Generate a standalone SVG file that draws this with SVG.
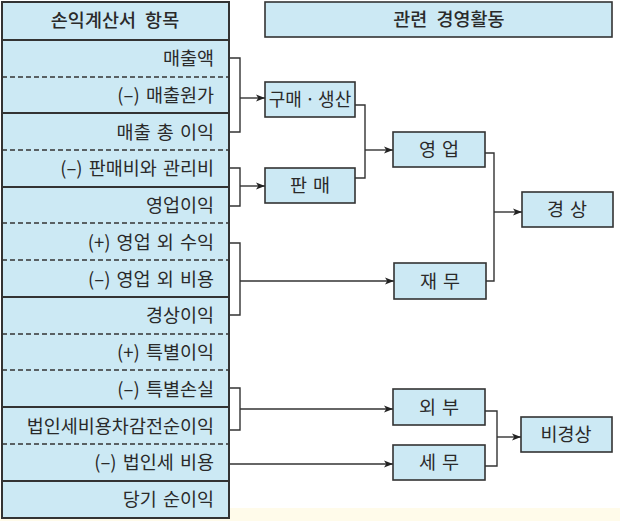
<svg xmlns="http://www.w3.org/2000/svg" width="620" height="521" viewBox="0 0 620 521">
<defs>
<marker id="arr" viewBox="0 0 10 10" refX="10" refY="5" markerWidth="9" markerHeight="9" markerUnits="userSpaceOnUse" orient="auto"><path d="M0,1 L10,5 L0,9 L2.5,5 Z" fill="#222"/></marker>
<style>
text{font-family:"Noto Sans CJK KR","Noto Sans",sans-serif;fill:#2a2a2a;}
.row{font-size:18.5px;text-anchor:end;word-spacing:2px;}
.hd{font-size:18.5px;text-anchor:middle;font-weight:500;word-spacing:5px;}
.bx{font-size:18.5px;text-anchor:middle;word-spacing:2px;}
.tight{word-spacing:-1px;font-size:18px;}
.box{fill:#cce9f4;stroke:#333;stroke-width:1.6;}
.solid{stroke:#333;stroke-width:2;}
.dash{stroke:#333;stroke-width:1.3;stroke-dasharray:5,3;}
.con{fill:none;stroke:#333;stroke-width:1.4;}
</style>
</defs>
<rect width="620" height="521" fill="#ffffff"/>
<rect x="0" y="508" width="620" height="13" fill="#fffbea"/>
<g id="table">
<rect x="2" y="2" width="227" height="516" fill="#cce9f4" stroke="#333" stroke-width="2"/>
<line class="solid" x1="2" y1="40" x2="229" y2="40"/>
<line class="dash" x1="2" y1="77" x2="229" y2="77"/>
<line class="solid" x1="2" y1="113" x2="229" y2="113"/>
<line class="dash" x1="2" y1="150" x2="229" y2="150"/>
<line class="solid" x1="2" y1="187" x2="229" y2="187"/>
<line class="dash" x1="2" y1="223" x2="229" y2="223"/>
<line class="dash" x1="2" y1="260" x2="229" y2="260"/>
<line class="solid" x1="2" y1="297" x2="229" y2="297"/>
<line class="dash" x1="2" y1="334" x2="229" y2="334"/>
<line class="dash" x1="2" y1="370" x2="229" y2="370"/>
<line class="solid" x1="2" y1="407" x2="229" y2="407"/>
<line class="dash" x1="2" y1="444" x2="229" y2="444"/>
<line class="solid" x1="2" y1="481" x2="229" y2="481"/>
<text class="hd" x="115" y="27">손익계산서 항목</text>
<text class="row" x="214" y="65">매출액</text>
<text class="row" x="214" y="102">(–) 매출원가</text>
<text class="row" x="214" y="139">매출 총 이익</text>
<text class="row" x="214" y="175">(–) 판매비와 관리비</text>
<text class="row" x="214" y="212">영업이익</text>
<text class="row" x="214" y="249">(+) 영업 외 수익</text>
<text class="row" x="214" y="286">(–) 영업 외 비용</text>
<text class="row" x="214" y="322">경상이익</text>
<text class="row" x="214" y="359">(+) 특별이익</text>
<text class="row" x="214" y="396">(–) 특별손실</text>
<text class="row" x="214" y="433">법인세비용차감전순이익</text>
<text class="row" x="214" y="469">(–) 법인세 비용</text>
<text class="row" x="214" y="506">당기 순이익</text>
</g>
<g id="header2"><rect class="box" x="265" y="2" width="347" height="35"/><text class="hd" x="449" y="26">관련 경영활동</text></g>
<g id="n-gumae"><rect class="box" x="265" y="82" width="90" height="35"/><text class="bx tight" x="310" y="106">구매 · 생산</text></g>
<g id="n-panmae"><rect class="box" x="265" y="168" width="90" height="35"/><text class="bx" x="310" y="192">판 매</text></g>
<g id="n-yeongeop"><rect class="box" x="393" y="132" width="92" height="35"/><text class="bx" x="439" y="156">영 업</text></g>
<g id="n-jaemu"><rect class="box" x="394" y="263" width="92" height="36"/><text class="bx" x="440" y="288">재 무</text></g>
<g id="n-gyeongsang"><rect class="box" x="522" y="192" width="91" height="35"/><text class="bx" x="567" y="216">경 상</text></g>
<g id="n-oebu"><rect class="box" x="393" y="389" width="92" height="36"/><text class="bx" x="439" y="414">외 부</text></g>
<g id="n-semu"><rect class="box" x="393" y="445" width="92" height="35"/><text class="bx" x="439" y="469">세 무</text></g>
<g id="n-bigyeongsang"><rect class="box" x="521" y="417" width="91" height="35"/><text class="bx" x="566" y="441">비경상</text></g>
<g id="connectors">
<path class="con" d="M229,58 H240 V132 H229"/>
<path class="con" d="M240,98 H265" marker-end="url(#arr)"/>
<path class="con" d="M229,168 H240 V206 H229"/>
<path class="con" d="M240,186 H265" marker-end="url(#arr)"/>
<path class="con" d="M355,105 H365 V178 H355"/>
<path class="con" d="M365,150 H393" marker-end="url(#arr)"/>
<path class="con" d="M229,243 H240 V315 H229"/>
<path class="con" d="M240,281 H394" marker-end="url(#arr)"/>
<path class="con" d="M485,153 H494 V281 H486"/>
<path class="con" d="M494,212 H522" marker-end="url(#arr)"/>
<path class="con" d="M229,388 H240 V430 H229"/>
<path class="con" d="M240,409 H393" marker-end="url(#arr)"/>
<path class="con" d="M229,464 H393" marker-end="url(#arr)"/>
<path class="con" d="M485,411 H497 V466 H485"/>
<path class="con" d="M497,437 H521" marker-end="url(#arr)"/>
</g>
</svg>
